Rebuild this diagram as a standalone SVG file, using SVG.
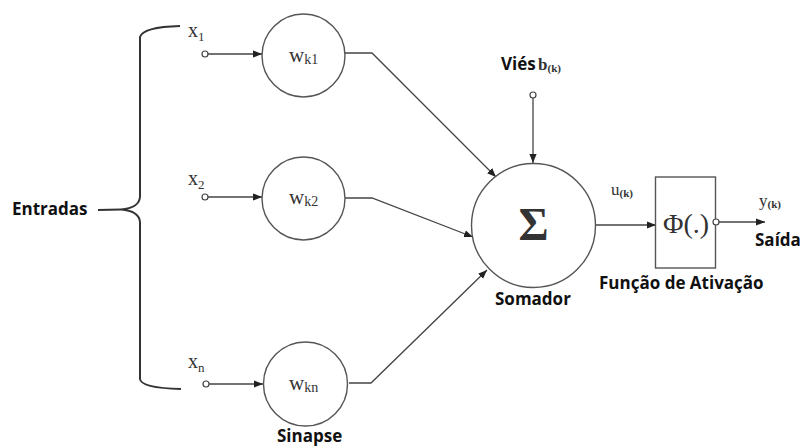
<svg xmlns="http://www.w3.org/2000/svg" width="803" height="446" viewBox="0 0 803 446">
<style>
.n{fill:#fff;stroke:#555;stroke-width:1.4}
.c{fill:none;stroke:#444;stroke-width:1.3}
.p{fill:#fff;stroke:#444;stroke-width:1.2}
.b{font-family:"Open Sans","Noto Sans",sans-serif;font-weight:bold;font-size:17px;fill:#111}
.s{font-family:"Liberation Serif","Times New Roman",serif;fill:#333}
</style>
<defs>
<marker id="ah" viewBox="0 0 10 10" refX="10" refY="5" markerWidth="9" markerHeight="9" markerUnits="userSpaceOnUse" orient="auto">
<path d="M0,1 L10,5 L0,9 Z" fill="#222"/>
</marker>
</defs>
<rect width="803" height="446" fill="#fff"/>
<g id="connectors">
<path class="c" d="M208,54 L262,54" marker-end="url(#ah)"/>
<path class="c" d="M208,197 L262,197" marker-end="url(#ah)"/>
<path class="c" d="M209,384 L263,384" marker-end="url(#ah)"/>
<path class="c" d="M345,53 L372,53 L496,177" marker-end="url(#ah)"/>
<path class="c" d="M345,198 L372,198 L473,237" marker-end="url(#ah)"/>
<path class="c" d="M349,383 L371,383 L487,270" marker-end="url(#ah)"/>
<path class="c" d="M533,98 L533,163" marker-end="url(#ah)"/>
<path class="c" d="M595,225 L656,225" marker-end="url(#ah)"/>
<path class="c" d="M719,222 L765,222" marker-end="url(#ah)"/>
</g>
<g id="brace">
<path d="M180,26 Q143,27 140,37 L140,197 Q139,208 121,209.5 Q139,211 140,222 L140,379 Q141,388 181,389" fill="none" stroke="#333" stroke-width="2"/>
<path d="M98,210 L121,209.5" fill="none" stroke="#333" stroke-width="2"/>
</g>
<g id="entradas"><text class="b" x="12" y="215">Entradas</text></g>
<g id="input1">
<circle class="p" cx="205" cy="54" r="3"/>
<text class="s" x="188" y="37" font-size="20">x<tspan font-size="13" dy="4">1</tspan></text>
</g>
<g id="input2">
<circle class="p" cx="205" cy="197" r="3"/>
<text class="s" x="188" y="185" font-size="20">x<tspan font-size="13" dy="4">2</tspan></text>
</g>
<g id="inputn">
<circle class="p" cx="206" cy="384" r="3"/>
<text class="s" x="188" y="368" font-size="20">x<tspan font-size="13" dy="4">n</tspan></text>
</g>
<g id="wk1">
<circle class="n" cx="303.5" cy="55.5" r="41.5"/>
<text class="s" x="289" y="62" font-size="21">w<tspan font-size="14" dy="2">k1</tspan></text>
</g>
<g id="wk2">
<circle class="n" cx="303.5" cy="198.5" r="41.5"/>
<text class="s" x="289" y="204" font-size="21">w<tspan font-size="14" dy="2">k2</tspan></text>
</g>
<g id="wkn">
<circle class="n" cx="305.5" cy="384" r="42"/>
<text class="s" x="289" y="390" font-size="21">w<tspan font-size="14" dy="2">kn</tspan></text>
</g>
<g id="sinapse"><text class="b" x="277" y="442">Sinapse</text></g>
<g id="bias">
<circle class="p" cx="533" cy="95" r="3"/>
<text class="b" x="501" y="70">Viés</text>
<text class="s" x="538" y="70" font-size="17" font-weight="bold">b<tspan font-size="11" dy="2">(k)</tspan></text>
</g>
<g id="somador">
<circle class="n" cx="533.5" cy="225.5" r="62"/>
<text class="s" x="533.5" y="240" font-size="46" text-anchor="middle" fill="#222" font-weight="bold">Σ</text>
<text class="b" x="495" y="305">Somador</text>
</g>
<g id="uk"><text class="s" x="611" y="195" font-size="17">u<tspan font-size="11" dy="2" font-weight="bold">(k)</tspan></text></g>
<g id="ativacao">
<rect class="n" x="655.5" y="177" width="60" height="91"/>
<text class="s" x="686" y="233" font-size="28" text-anchor="middle" fill="#222">Φ(.)</text>
<circle class="p" cx="716" cy="222" r="3"/>
<text class="b" x="599" y="289">Função de Ativação</text>
</g>
<g id="saida">
<text class="s" x="759" y="206" font-size="17">y<tspan font-size="11" dy="2" font-weight="bold">(k)</tspan></text>
<text class="b" x="755" y="246">Saída</text>
</g>
</svg>
